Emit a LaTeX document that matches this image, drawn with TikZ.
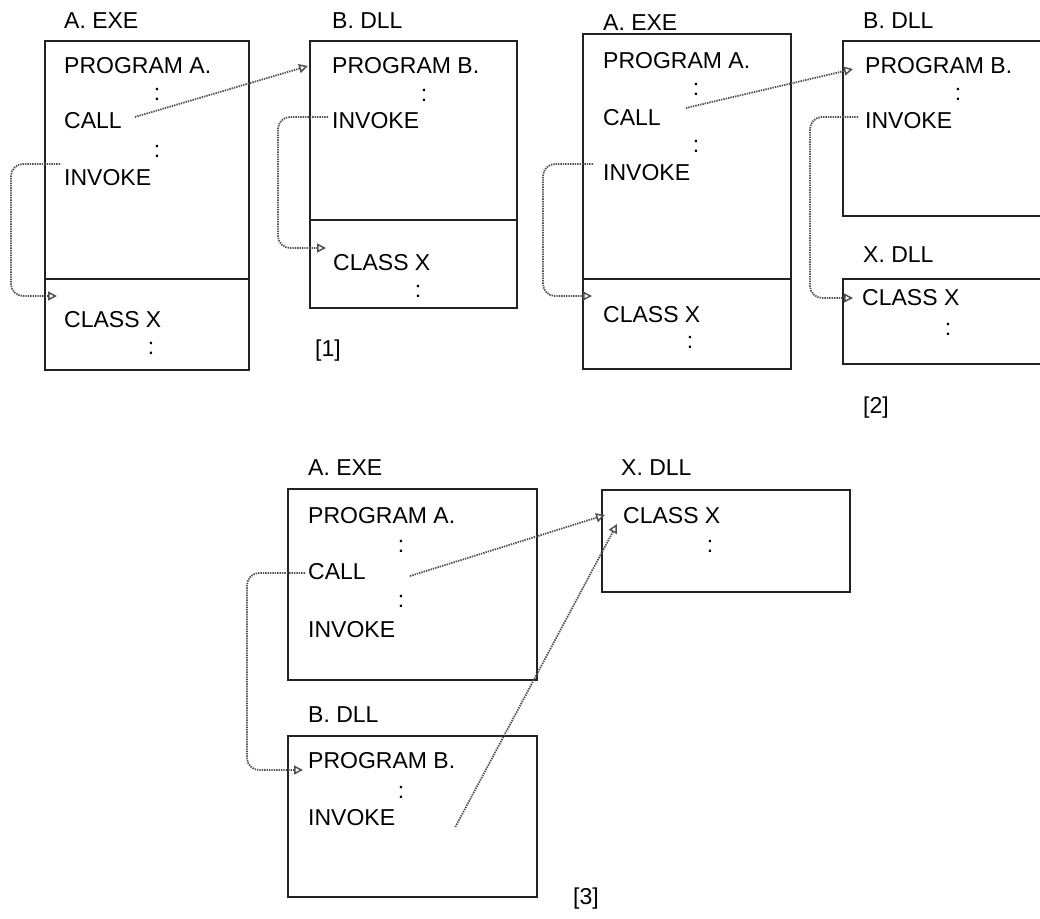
\documentclass[tikz,border=0pt]{standalone}
\usepackage{fontspec}
\setmainfont{Liberation Sans}
\usepackage{tikz}
\usetikzlibrary{arrows.meta, calc, positioning}
\definecolor{rahmen}{HTML}{222222}
\definecolor{pfeil}{HTML}{505050}

\begin{document}
\begin{tikzpicture}[
        x=1pt, y=-1pt,
        every node/.style={font=\fontsize{23}{27}\selectfont},
        txt/.style={anchor=base west, inner sep=0pt},
        pkt/.style={anchor=base, inner sep=0pt},
        box/.style={draw=rahmen, line width=1.8pt, anchor=north west,
                    inner sep=0pt, outer sep=0pt},
        trenn/.style={draw=rahmen, line width=1.8pt},
        link/.style={draw=pfeil, line width=1.8pt, dash pattern=on 1.4pt off 1pt,
                     -{Triangle[open, length=9pt, width=9pt, line width=1.5pt]}},
        ecke/.style={link, rounded corners=12pt},
      ]
      \useasboundingbox (0,0) rectangle (1040,918);
      \clip (0,0) rectangle (1040,918);

      % [1] A.EXE + B.DLL
      \node[txt] (lblA1) at (64,28) {A. EXE};
      \node[box, minimum width=204pt, minimum height=329pt] (exe1) at (45,41) {};
      \draw[trenn] ([shift={(0,238)}]exe1.north west) -- ([shift={(0,238)}]exe1.north east);
      \node[txt] (progA1) at (64,73) {PROGRAM A.};
      \node[pkt] (dA1) at (157,100) {:};
      \node[txt] (callA1) at (64,128) {CALL};
      \node[pkt] (dA1b) at (157,157) {:};
      \node[txt] (invA1) at (64,185) {INVOKE};
      \node[txt] (clsA1) at (64,327) {CLASS X};
      \node[pkt] (dA1c) at (151,354) {:};

      \node[txt] (lblB1) at (332,28) {B. DLL};
      \node[box, minimum width=207pt, minimum height=267pt] (dll1) at (310,41) {};
      \draw[trenn] ([shift={(0,179)}]dll1.north west) -- ([shift={(0,179)}]dll1.north east);
      \node[txt] (progB1) at (332,73) {PROGRAM B.};
      \node[pkt] (dB1) at (424,101) {:};
      \node[txt] (invB1) at (332,128) {INVOKE};
      \node[txt] (clsB1) at (333,270) {CLASS X};
      \node[pkt] (dB1b) at (418,297) {:};
      \node[txt] (nr1) at (315,356) {[1]};

      \draw[link] ([shift={(13,-11)}]callA1.base east) -- ([shift={(-24,-7)}]progB1.base west);
      \draw[ecke] ([shift={(-4,-21)}]invA1.base west) -- ++(-49,0)
        |- ([shift={(-7,-31)}]clsA1.base west);
      \draw[ecke] ([shift={(-4,-11)}]invB1.base west) -- ++(-50,0)
        |- ([shift={(-7,-22)}]clsB1.base west);

      % [2] A.EXE + B.DLL + X.DLL
      \node[txt] (lblA2) at (603,30) {A. EXE};
      \node[box, minimum width=208pt, minimum height=335pt] (exe2) at (583,34) {};
      \draw[trenn] ([shift={(0,245)}]exe2.north west) -- ([shift={(0,245)}]exe2.north east);
      \node[txt] (progA2) at (603,68) {PROGRAM A.};
      \node[pkt] (dA2) at (696,95) {:};
      \node[txt] (callA2) at (603,125) {CALL};
      \node[pkt] (dA2b) at (696,152) {:};
      \node[txt] (invA2) at (603,180) {INVOKE};
      \node[txt] (clsA2) at (603,322) {CLASS X};
      \node[pkt] (dA2c) at (690,348) {:};

      \node[txt] (lblB2) at (863,28) {B. DLL};
      \node[box, minimum width=220pt, minimum height=175pt] (dll2) at (843,41) {};
      \node[txt] (progB2) at (865,73) {PROGRAM B.};
      \node[pkt] (dB2) at (958,100) {:};
      \node[txt] (invB2) at (865,128) {INVOKE};

      \node[txt] (lblX2) at (863,262) {X. DLL};
      \node[box, minimum width=220pt, minimum height=85pt] (xdll2) at (843,279) {};
      \node[txt] (clsX2) at (862,305) {CLASS X};
      \node[pkt] (dX2) at (948,335) {:};
      \node[txt] (nr2) at (863,413) {[2]};

      \draw[link] ([shift={(25,-17)}]callA2.base east) -- ([shift={(-12,-4)}]progB2.base west);
      \draw[ecke] ([shift={(-10,-16)}]invA2.base west) -- ++(-50,0)
        |- ([shift={(-11,-26)}]clsA2.base west);
      \draw[ecke] ([shift={(-7,-11)}]invB2.base west) -- ++(-48,0)
        |- ([shift={(-9,-7)}]clsX2.base west);

      % [3] A.EXE, B.DLL, X.DLL getrennt
      \node[txt] (lblA3) at (308,475) {A. EXE};
      \node[box, minimum width=249pt, minimum height=191pt] (exe3) at (288,489) {};
      \node[txt] (progA3) at (308,523) {PROGRAM A.};
      \node[pkt] (dA3) at (401,552) {:};
      \node[txt] (callA3) at (308,579) {CALL};
      \node[pkt] (dA3b) at (401,607) {:};
      \node[txt] (invA3) at (308,637) {INVOKE};

      \node[txt] (lblB3) at (308,722) {B. DLL};
      \node[box, minimum width=249pt, minimum height=161pt] (dll3) at (288,736) {};
      \node[txt] (progB3) at (308,768) {PROGRAM B.};
      \node[pkt] (dB3) at (401,798) {:};
      \node[txt] (invB3) at (308,825) {INVOKE};
      \node[txt] (nr3) at (573,904) {[3]};

      \node[txt] (lblX3) at (621,475) {X. DLL};
      \node[box, minimum width=248pt, minimum height=102pt] (xdll3) at (602,490) {};
      \node[txt] (clsX3) at (623,523) {CLASS X};
      \node[pkt] (dX3) at (710,552) {:};

      \draw[link] ([shift={(44,-3)}]callA3.base east) -- ([shift={(-18,-8)}]clsX3.base west);
      \draw[ecke] ([shift={(-3,-6)}]callA3.base west) -- ++(-58,0)
        |- ([shift={(-5,2)}]progB3.base west);
      \draw[link] ([shift={(60,2)}]invB3.base east) -- ([shift={(-6,1)}]clsX3.base west);
    \end{tikzpicture}
\end{document}
